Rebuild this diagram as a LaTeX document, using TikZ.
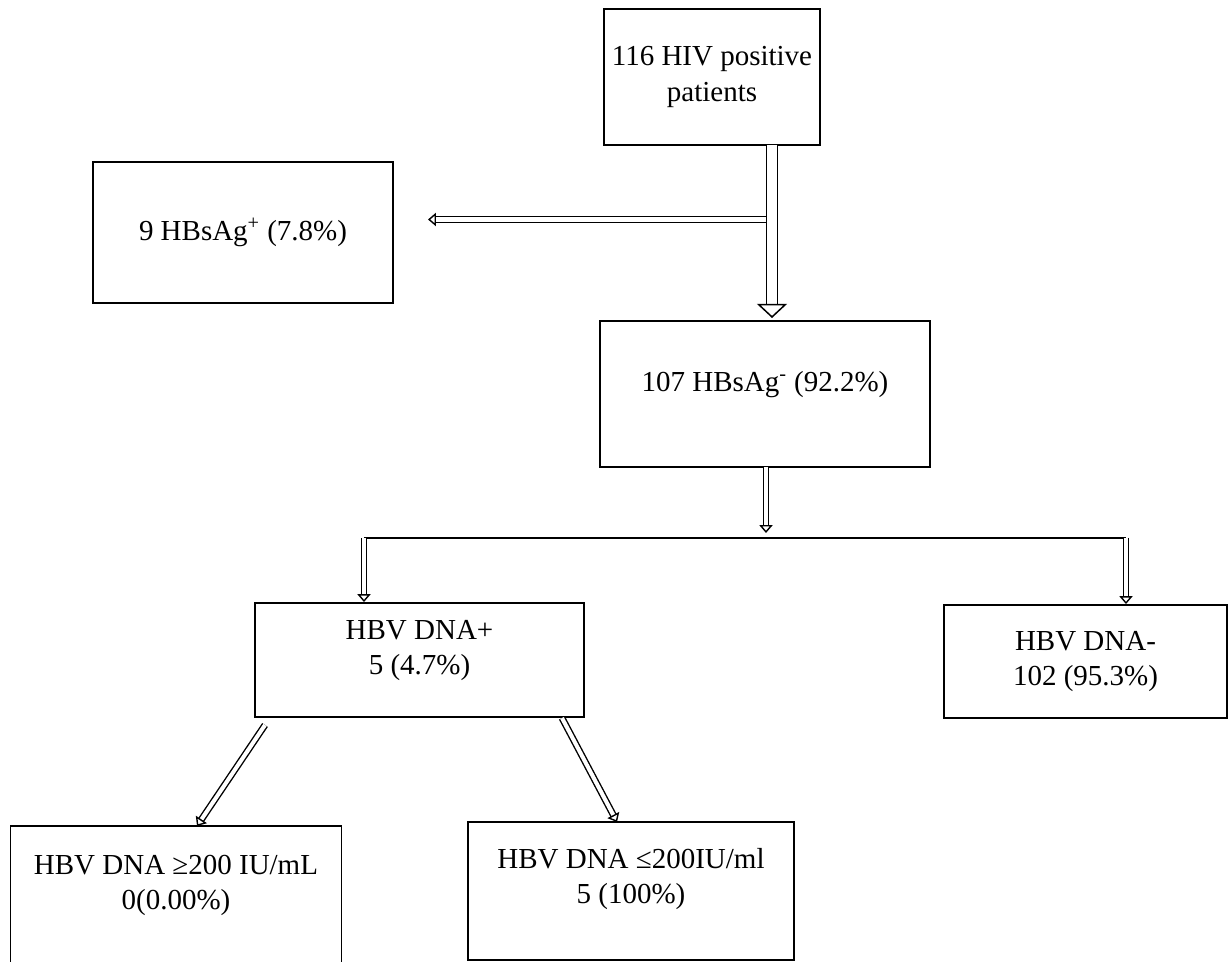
\documentclass[tikz,border=0pt]{standalone}
\usepackage{fontspec}
\setmainfont{Liberation Serif}
\usetikzlibrary{arrows.meta}
\tikzset{
  box/.style={draw, line width=1.1pt, align=center, inner sep=0pt},
  bigarrow/.style={double, line width=0.85pt, double distance=5.6pt, -{Triangle[open,line width=0.85pt,length=8pt,width=17pt]}},
  thinarrow/.style={double, line width=0.8pt, double distance=2.3pt, -{Triangle[open,line width=0.8pt,length=4.5pt,width=7.5pt]}}
}
\begin{document}
\begin{tikzpicture}[x=0.02cm,y=-0.02cm,font=\fontsize{16.5}{20}\selectfont]
        \useasboundingbox (0,0) rectangle (1231,962);
        \node[box,minimum width=4.32cm,minimum height=2.72cm] (hiv) at (712,77) {116 HIV positive\\patients};
        \node[box,minimum width=6cm,minimum height=2.82cm] (pos) at (243,232.5) {9 HBsAg\textsuperscript{+} (7.8\%)};
        \node[box,minimum width=6.6cm,minimum height=2.92cm,text depth=14pt] (neg) at (765,394) {107 HBsAg\textsuperscript{-} (92.2\%)};
        \node[box,minimum width=6.58cm,minimum height=2.28cm,text depth=14pt] (dnapos) at (419.5,660) {HBV DNA+\\5 (4.7\%)};
        \node[box,minimum width=5.66cm,minimum height=2.26cm] (dnaneg) at (1085.5,661.5) {HBV DNA-\\102 (95.3\%)};
        \node[box,minimum width=6.62cm,minimum height=2.8cm,text depth=16pt] (high) at (176,896) {HBV DNA ≥200 IU/mL\\0(0.00\%)};
        \node[box,minimum width=6.52cm,minimum height=2.76cm,text depth=17pt] (low) at (631,891) {HBV DNA ≤200IU/ml\\5 (100\%)};
        \coordinate (top) at (772,145);
        \coordinate (topend) at (772,318);
        \coordinate (side) at (766,219.5);
        \coordinate (sideend) at (428,219.5);
        \coordinate (mid) at (766,467);
        \coordinate (midend) at (766,533);
        \coordinate (splitl) at (364,538);
        \coordinate (splitr) at (1126,538);
        \coordinate (highs) at (265,725);
        \coordinate (highe) at (197,826);
        \coordinate (lows) at (562,718);
        \coordinate (lowe) at (617,822);
        \draw[bigarrow] (top) -- (topend);
        \draw[thinarrow] (side) -- (sideend);
        \draw[thinarrow] (mid) -- (midend);
        \draw[line width=0.85pt] (splitl) -- (splitr);
        \draw[thinarrow] (splitl) -- (dnapos.north -| splitl);
        \draw[thinarrow] (splitr) -- (dnaneg.north -| splitr);
        \draw[thinarrow] (highs) -- (highe);
        \draw[thinarrow] (lows) -- (lowe);
\end{tikzpicture}
\end{document}
